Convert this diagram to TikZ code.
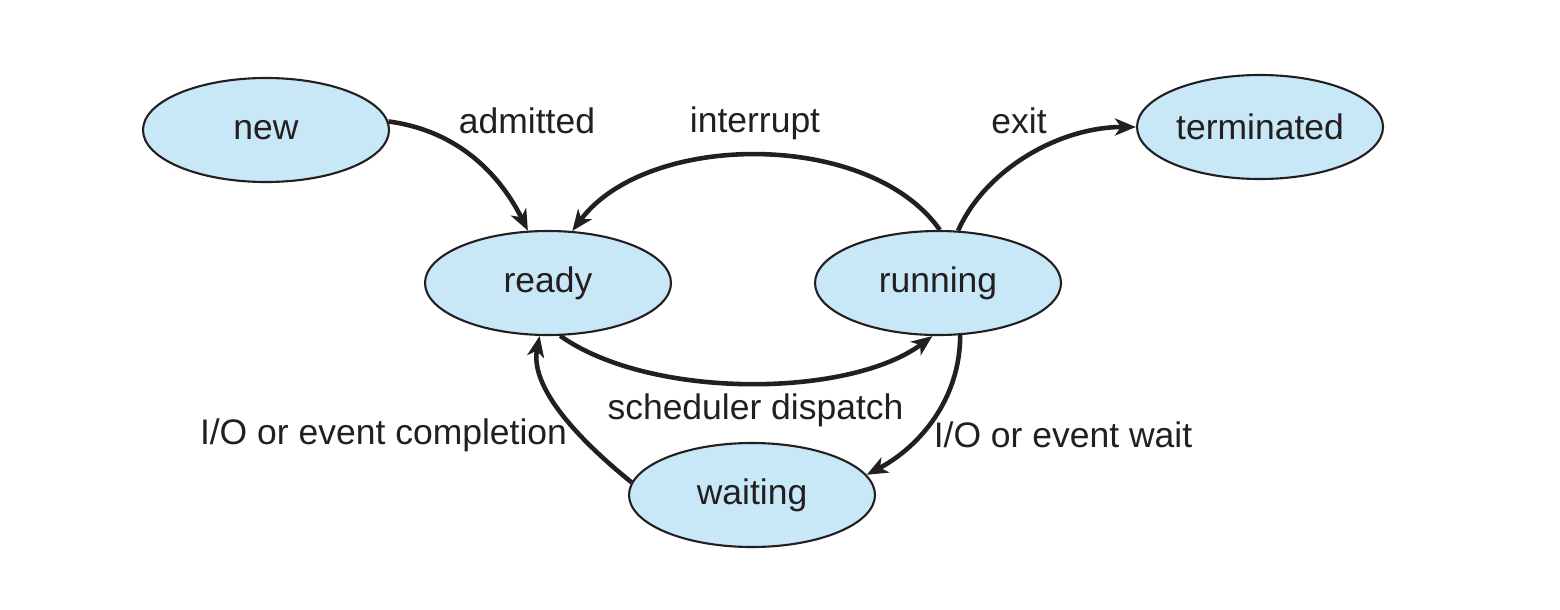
\documentclass[tikz,border=0pt]{standalone}
\usepackage{fontspec}
\setmainfont{Liberation Sans}
\usetikzlibrary{shapes.geometric,arrows.meta}
\definecolor{statefill}{RGB}{200,232,248}
\definecolor{ink}{RGB}{35,31,32}
\begin{document}
\begin{tikzpicture}[
  font=\fontsize{10.1}{12}\selectfont,
  state/.style={ellipse, draw=ink, line width=0.6pt, fill=statefill, text=ink,
    minimum width=2.46cm, minimum height=1.04cm, inner sep=0pt},
  trans/.style={draw=ink, line width=1.3pt,
    -{Stealth[length=0.21cm, width=0.17cm, inset=0.06cm]}},
  lbl/.style={text=ink, inner sep=0pt}
]
\useasboundingbox (0,0) rectangle (15.6,-6.09);
\node[state] (new)        at (2.66,-1.30) {new};
\node[state] (terminated) at (12.60,-1.27) {terminated};
\node[state] (ready)      at (5.48,-2.83) {ready};
\node[state] (running)    at (9.38,-2.83) {running};
\node[state] (waiting)    at (7.52,-4.95) {waiting};

\node[lbl] (admitted) at (5.27,-1.21) {admitted};
\node[lbl] (interrupt) at (7.55,-1.23) {interrupt};
\node[lbl] (exit) at (10.19,-1.21) {exit};
\node[lbl] (dispatch) at (7.555,-4.10) {scheduler dispatch};
\node[lbl] (completion) at (3.835,-4.35) {I/O or event completion};
\node[lbl] (wait) at (10.63,-4.35) {I/O or event wait};

\draw[trans] (new.4) .. controls +(0.75,-0.10) and +(-0.25,0.5) .. (ready.111);
\draw[trans] (running.88) .. controls +(-0.7,1.0) and +(0.75,1.0) .. (ready.65);
\draw[trans] (running.69) .. controls +(0.27,0.61) and +(-0.77,0) .. (terminated.west);
\draw[trans] (ready.-77) .. controls +(0.9,-0.64) and +(-0.83,-0.62) .. (running.-96);
\draw[trans] (running.-67) .. controls +(0,-0.64) and +(0.53,0.28) .. (waiting.10);
\draw[trans] (waiting.174) .. controls +(-0.52,0.42) and +(-0.10,-0.52) .. (ready.-99);
\end{tikzpicture}
\end{document}
